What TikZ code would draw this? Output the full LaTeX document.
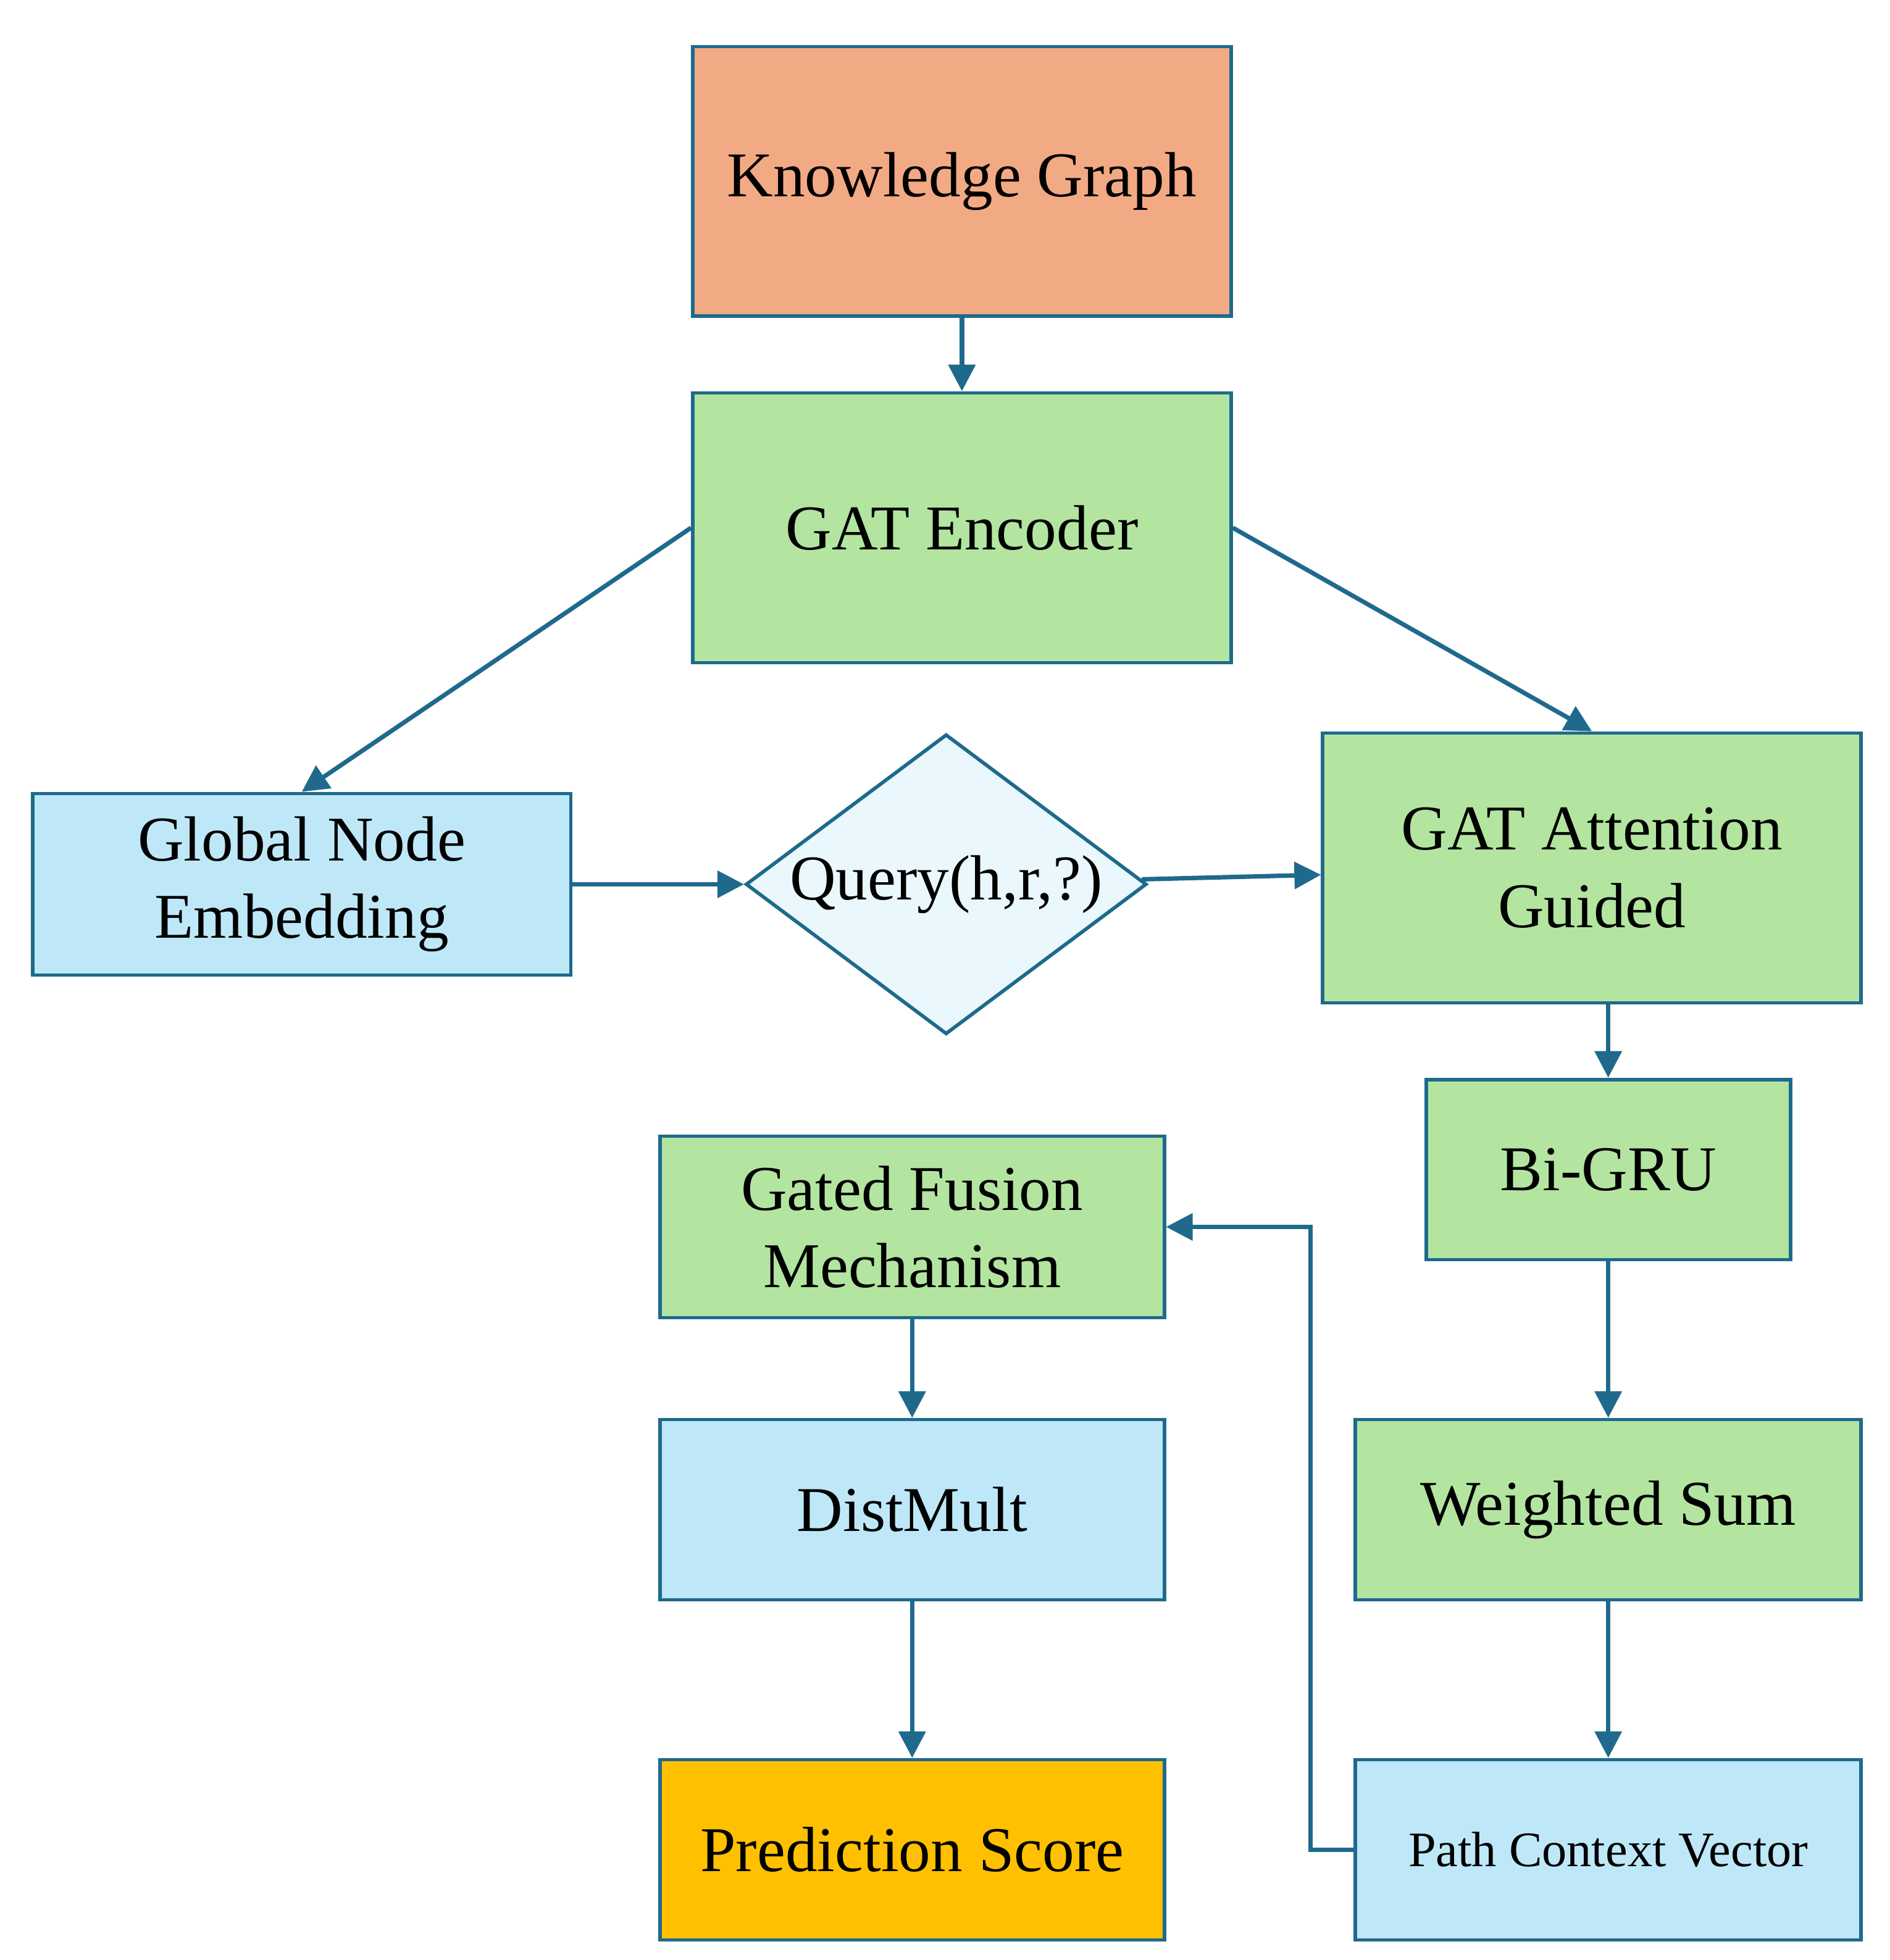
\documentclass[tikz,border=0pt]{standalone}
\usepackage{fontspec}
\setmainfont{Liberation Serif}
\usetikzlibrary{shapes.geometric,arrows.meta}
\definecolor{edge}{HTML}{1F6A8C}
\definecolor{kg}{HTML}{F2AA84}
\definecolor{gr}{HTML}{B3E5A0}
\definecolor{bl}{HTML}{BEE8F8}
\definecolor{dia}{HTML}{EAF8FD}
\definecolor{ps}{HTML}{FFC000}
\begin{document}
\begin{tikzpicture}[x=0.01cm,y=-0.01cm,
 box/.style={draw=edge,line width=0.8pt,inner sep=0pt,align=center,font=\fontsize{14.4}{17.5}\selectfont},
 arr/.style={draw=edge,line width=1pt,-{Triangle[length=6pt,width=6pt]}}]
\useasboundingbox (0,0) rectangle (1500,1556);
\node[box,fill=kg,minimum width=4.27cm,minimum height=2.14cm] (kg) at (763.5,144) {Knowledge Graph};
\node[box,fill=gr,minimum width=4.27cm,minimum height=2.14cm] (enc) at (763.5,419) {GAT Encoder};
\node[box,fill=bl,minimum width=4.27cm,minimum height=1.44cm] (gne) at (239.5,702) {Global Node\\Embedding};
\node[box,fill=dia,diamond,aspect=1.34,minimum width=3.18cm,minimum height=2.38cm] (q) at (751,702) {Query(h,r,?)};
\node[box,fill=gr,minimum width=4.27cm,minimum height=2.14cm] (att) at (1263.5,689) {GAT Attention\\Guided};
\node[box,fill=gr,minimum width=2.89cm,minimum height=1.43cm] (gru) at (1276.5,928.5) {Bi-GRU};
\node[box,fill=gr,minimum width=4.0cm,minimum height=1.44cm] (gf) at (724,974) {Gated Fusion\\Mechanism};
\node[box,fill=bl,minimum width=4.0cm,minimum height=1.43cm] (dm) at (724,1198.5) {DistMult};
\node[box,fill=gr,minimum width=4.01cm,minimum height=1.43cm] (ws) at (1276.5,1198.5) {Weighted Sum};
\node[box,fill=ps,minimum width=4.0cm,minimum height=1.43cm] (pred) at (724,1468.5) {Prediction Score};
\node[box,fill=bl,minimum width=4.01cm,minimum height=1.43cm,font=\fontsize{11.2}{13}\selectfont] (pcv) at (1276.5,1468.5) {Path Context Vector};
\draw[arr] (kg) -- (enc);
\draw[arr] (enc.west) -- (gne.north);
\draw[arr] (enc.east) -- (att.north);
\draw[arr] (gne) -- (q);
\draw[arr] (q) -- (att);
\draw[arr] (att.south -| gru.north) -- (gru.north);
\draw[arr] (gru) -- (ws);
\draw[arr] (ws) -- (pcv);
\coordinate (c1) at (1040,1468.5);
\coordinate (c2) at (1040,974);
\draw[arr] (pcv.west) -- (c1) -- (c2) -- (gf.east);
\draw[arr] (gf) -- (dm);
\draw[arr] (dm) -- (pred);
\end{tikzpicture}
\end{document}
